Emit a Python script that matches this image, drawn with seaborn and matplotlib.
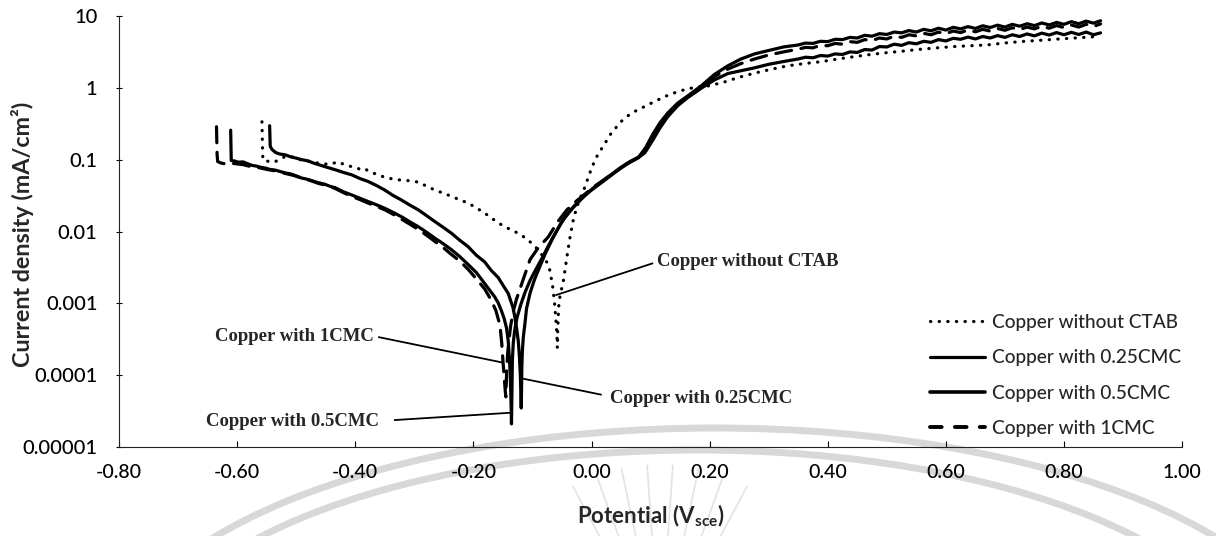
import matplotlib
matplotlib.use("Agg")
import numpy as np
import matplotlib.pyplot as plt
from matplotlib.lines import Line2D
from matplotlib.patches import Arc
from matplotlib.ticker import FixedLocator, FixedFormatter, NullLocator
import pandas as pd
import seaborn as sns

# Potentiodynamic polarisation data: (potential V vs SCE, current density mA/cm2)
no_ctab = [
    (-0.558, 0.34), (-0.5575, 0.22), (-0.557, 0.14), (-0.5565, 0.100), (-0.550, 0.097),
    (-0.542, 0.093), (-0.535, 0.095), (-0.527, 0.104), (-0.520, 0.110), (-0.512, 0.113),
    (-0.505, 0.109), (-0.497, 0.103), (-0.490, 0.099), (-0.480, 0.096), (-0.470, 0.093),
    (-0.462, 0.090), (-0.452, 0.088), (-0.443, 0.087), (-0.435, 0.091), (-0.428, 0.094),
    (-0.420, 0.087), (-0.410, 0.082), (-0.400, 0.079), (-0.392, 0.074), (-0.384, 0.076),
    (-0.378, 0.070), (-0.370, 0.066), (-0.364, 0.063), (-0.356, 0.060), (-0.350, 0.057),
    (-0.340, 0.055), (-0.330, 0.053), (-0.316, 0.052), (-0.305, 0.051), (-0.293, 0.049),
    (-0.279, 0.043), (-0.265, 0.038), (-0.251, 0.0345), (-0.237, 0.031), (-0.223, 0.0278),
    (-0.209, 0.0251), (-0.195, 0.0215), (-0.181, 0.0182), (-0.167, 0.0150), (-0.152, 0.0124),
    (-0.138, 0.0108), (-0.124, 0.0095), (-0.110, 0.0080), (-0.096, 0.0063), (-0.085, 0.0049),
    (-0.076, 0.0038), (-0.071, 0.0030), (-0.066, 0.0018), (-0.0625, 0.0010), (-0.060, 0.00055),
    (-0.0585, 0.00035), (-0.0578, 0.00024), (-0.0572, 0.00040), (-0.0562, 0.00070),
    (-0.0550, 0.00105), (-0.0520, 0.00145), (-0.0482, 0.0019), (-0.0440, 0.0033),
    (-0.0398, 0.0056), (-0.0355, 0.0092), (-0.0313, 0.0140), (-0.0250, 0.0220),
    (-0.0180, 0.0310), (-0.0117, 0.041), (-0.0040, 0.062), (0.0024, 0.085), (0.0109, 0.120),
    (0.0193, 0.153), (0.0334, 0.236), (0.050, 0.342), (0.067, 0.447), (0.084, 0.525),
    (0.101, 0.617), (0.1236, 0.762), (0.146, 0.895), (0.163, 0.98), (0.180, 1.04),
    (0.200, 1.08), (0.225, 1.22), (0.250, 1.42), (0.276, 1.62), (0.300, 1.80), (0.332, 2.05),
    (0.360, 2.20), (0.389, 2.34), (0.417, 2.55), (0.445, 2.75), (0.473, 2.95), (0.501, 3.13),
    (0.530, 3.30), (0.558, 3.49), (0.586, 3.65), (0.614, 3.80), (0.642, 3.90), (0.670, 4.00),
    (0.698, 4.25), (0.727, 4.46), (0.755, 4.62), (0.783, 4.79), (0.810, 4.95), (0.835, 5.10),
    (0.857, 5.25),
]

cmc_025 = [
    (-0.545, 0.30), (-0.5445, 0.21), (-0.544, 0.155), (-0.541, 0.140), (-0.535, 0.127),
    (-0.528, 0.121), (-0.519, 0.118), (-0.510, 0.111), (-0.500, 0.106), (-0.491, 0.101),
    (-0.480, 0.097), (-0.470, 0.090), (-0.462, 0.086), (-0.450, 0.080), (-0.434, 0.073),
    (-0.420, 0.067), (-0.406, 0.062), (-0.392, 0.055), (-0.378, 0.050), (-0.364, 0.044),
    (-0.350, 0.038), (-0.336, 0.032), (-0.322, 0.0277), (-0.308, 0.0236), (-0.293, 0.0201),
    (-0.279, 0.0167), (-0.265, 0.0138), (-0.251, 0.0115), (-0.237, 0.0095), (-0.223, 0.0076),
    (-0.209, 0.0062), (-0.195, 0.0047), (-0.181, 0.0038), (-0.170, 0.0029), (-0.158, 0.0023),
    (-0.149, 0.00175), (-0.141, 0.00138), (-0.137, 0.0011), (-0.133, 0.00088), (-0.130, 0.00066),
    (-0.127, 0.00046), (-0.124, 0.00030), (-0.122, 0.00018), (-0.1205, 0.0001),
    (-0.1195, 0.000055), (-0.119, 0.000035), (-0.1185, 0.00006), (-0.118, 0.00013),
    (-0.117, 0.00022), (-0.1155, 0.00034), (-0.113, 0.0005), (-0.110, 0.00085), (-0.104, 0.0014),
    (-0.097, 0.0021), (-0.088, 0.0032), (-0.078, 0.0050), (-0.066, 0.0080), (-0.051, 0.0135),
    (-0.035, 0.020), (-0.020, 0.027), (-0.008, 0.034), (0.005, 0.042), (0.020, 0.052),
    (0.035, 0.064), (0.050, 0.079), (0.065, 0.095), (0.080, 0.110), (0.092, 0.150),
    (0.104, 0.230), (0.116, 0.330), (0.129, 0.45), (0.146, 0.62), (0.163, 0.78), (0.186, 1.08),
    (0.208, 1.55), (0.231, 2.05), (0.253, 2.55), (0.276, 3.00), (0.300, 3.35), (0.325, 3.75),
    (0.350, 4.00), (0.3625, 4.25), (0.375, 4.20), (0.3875, 4.50), (0.400, 4.45), (0.4125, 4.80),
    (0.425, 4.75), (0.4375, 5.10), (0.450, 5.00), (0.4625, 5.45), (0.475, 5.30), (0.4875, 5.75),
    (0.500, 5.60), (0.5125, 6.05), (0.525, 5.90), (0.5375, 6.35), (0.550, 6.05), (0.5625, 6.60),
    (0.575, 6.30), (0.5875, 6.85), (0.600, 6.45), (0.6125, 7.05), (0.625, 6.70), (0.6375, 7.20),
    (0.650, 6.80), (0.6625, 7.40), (0.675, 7.00), (0.6875, 7.55), (0.700, 7.10), (0.7125, 7.75),
    (0.725, 7.30), (0.7375, 7.90), (0.750, 7.45), (0.7625, 8.10), (0.775, 7.60), (0.7875, 8.25),
    (0.800, 7.75), (0.8125, 8.45), (0.825, 7.90), (0.8375, 8.60), (0.850, 8.05), (0.862, 8.70),
]

cmc_05 = [
    (-0.611, 0.26), (-0.6105, 0.16), (-0.610, 0.098), (-0.605, 0.097), (-0.598, 0.093),
    (-0.590, 0.094), (-0.583, 0.089), (-0.575, 0.084), (-0.567, 0.082), (-0.560, 0.079),
    (-0.552, 0.077), (-0.545, 0.074), (-0.535, 0.072), (-0.527, 0.069), (-0.519, 0.066),
    (-0.510, 0.064), (-0.500, 0.060), (-0.491, 0.056), (-0.482, 0.054), (-0.472, 0.051),
    (-0.462, 0.048), (-0.452, 0.046), (-0.443, 0.043), (-0.434, 0.041), (-0.420, 0.036),
    (-0.406, 0.0325), (-0.392, 0.0292), (-0.378, 0.0263), (-0.364, 0.0237), (-0.350, 0.0212),
    (-0.336, 0.0186), (-0.322, 0.0162), (-0.308, 0.0138), (-0.293, 0.0117), (-0.279, 0.0098),
    (-0.265, 0.0081), (-0.251, 0.0068), (-0.237, 0.0056), (-0.223, 0.0045), (-0.209, 0.0035),
    (-0.195, 0.0027), (-0.181, 0.0019), (-0.172, 0.00152), (-0.164, 0.00124), (-0.158, 0.00102),
    (-0.153, 0.00081), (-0.148, 0.00062), (-0.144, 0.00046), (-0.141, 0.00030), (-0.139, 0.00017),
    (-0.1375, 0.0001), (-0.1365, 0.00005), (-0.1358, 0.00003), (-0.1355, 0.000021),
    (-0.1350, 0.00004), (-0.1345, 0.00009), (-0.1340, 0.00016), (-0.1325, 0.00028),
    (-0.130, 0.00043), (-0.126, 0.00064), (-0.120, 0.00095), (-0.113, 0.0014), (-0.104, 0.0021),
    (-0.094, 0.0030), (-0.083, 0.0044), (-0.072, 0.0066), (-0.060, 0.0100), (-0.045, 0.0160),
    (-0.030, 0.0225), (-0.015, 0.0300), (0.000, 0.0380), (0.015, 0.0470), (0.030, 0.058),
    (0.045, 0.072), (0.060, 0.088), (0.075, 0.102), (0.090, 0.125), (0.104, 0.19), (0.116, 0.28),
    (0.129, 0.40), (0.146, 0.57), (0.163, 0.74), (0.186, 1.00), (0.208, 1.30), (0.231, 1.60),
    (0.253, 1.75), (0.276, 1.92), (0.300, 2.15), (0.325, 2.35), (0.350, 2.55), (0.3625, 2.70),
    (0.375, 2.65), (0.3875, 2.85), (0.400, 2.80), (0.4125, 3.00), (0.425, 2.95), (0.4375, 3.20),
    (0.450, 3.15), (0.4625, 3.45), (0.475, 3.40), (0.4875, 3.80), (0.500, 3.75), (0.5125, 4.10),
    (0.525, 3.95), (0.5375, 4.30), (0.550, 4.15), (0.5625, 4.50), (0.575, 4.35), (0.5875, 4.75),
    (0.600, 4.55), (0.6125, 4.95), (0.625, 4.80), (0.6375, 5.15), (0.650, 4.85), (0.6625, 5.25),
    (0.675, 5.00), (0.6875, 5.40), (0.700, 5.10), (0.7125, 5.55), (0.725, 5.25), (0.7375, 5.70),
    (0.750, 5.35), (0.7625, 5.85), (0.775, 5.50), (0.7875, 5.95), (0.800, 5.55), (0.8125, 6.00),
    (0.825, 5.60), (0.8375, 6.05), (0.850, 5.55), (0.862, 5.90),
]

cmc_1 = [
    (-0.635, 0.29), (-0.6345, 0.19), (-0.634, 0.12), (-0.633, 0.095), (-0.628, 0.091),
    (-0.620, 0.088), (-0.610, 0.090), (-0.600, 0.088), (-0.590, 0.086), (-0.580, 0.082),
    (-0.570, 0.080), (-0.560, 0.077), (-0.547, 0.073), (-0.533, 0.070), (-0.519, 0.065),
    (-0.505, 0.061), (-0.491, 0.056), (-0.477, 0.052), (-0.462, 0.047), (-0.448, 0.044),
    (-0.434, 0.040), (-0.420, 0.035), (-0.406, 0.031), (-0.392, 0.028), (-0.378, 0.025),
    (-0.364, 0.0225), (-0.350, 0.0202), (-0.336, 0.0175), (-0.322, 0.0150), (-0.308, 0.0128),
    (-0.293, 0.0107), (-0.279, 0.0089), (-0.265, 0.0073), (-0.251, 0.0060), (-0.237, 0.0048),
    (-0.223, 0.0039), (-0.209, 0.0030), (-0.195, 0.0022), (-0.181, 0.0016), (-0.170, 0.00112),
    (-0.162, 0.0008), (-0.155, 0.0005), (-0.152, 0.00028), (-0.150, 0.00016), (-0.148, 0.0001),
    (-0.146, 0.00006), (-0.145, 0.00005), (-0.1445, 0.00007), (-0.1435, 0.00012),
    (-0.142, 0.0002), (-0.140, 0.0003), (-0.137, 0.00048), (-0.133, 0.00075), (-0.127, 0.00115),
    (-0.118, 0.0019), (-0.104, 0.0041), (-0.090, 0.0060), (-0.073, 0.0085), (-0.058, 0.0135),
    (-0.042, 0.020), (-0.025, 0.027), (-0.010, 0.034), (0.005, 0.043), (0.020, 0.052),
    (0.035, 0.064), (0.050, 0.078), (0.065, 0.093), (0.080, 0.108), (0.092, 0.135),
    (0.104, 0.21), (0.116, 0.30), (0.129, 0.42), (0.146, 0.59), (0.163, 0.76), (0.186, 1.04),
    (0.208, 1.45), (0.231, 1.85), (0.253, 2.20), (0.276, 2.55), (0.300, 2.90), (0.325, 3.20),
    (0.350, 3.50), (0.3625, 3.70), (0.375, 3.65), (0.3875, 3.95), (0.400, 3.90), (0.4125, 4.20),
    (0.425, 4.10), (0.4375, 4.45), (0.450, 4.35), (0.4625, 4.75), (0.475, 4.60), (0.4875, 5.00),
    (0.500, 4.85), (0.5125, 5.30), (0.525, 5.10), (0.5375, 5.55), (0.550, 5.35), (0.5625, 5.80),
    (0.575, 5.55), (0.5875, 6.05), (0.600, 5.75), (0.6125, 6.25), (0.625, 5.95), (0.6375, 6.45),
    (0.650, 6.10), (0.6625, 6.60), (0.675, 6.25), (0.6875, 6.80), (0.700, 6.40), (0.7125, 6.95),
    (0.725, 6.55), (0.7375, 7.10), (0.750, 6.70), (0.7625, 7.30), (0.775, 6.85), (0.7875, 7.45),
    (0.800, 7.00), (0.8125, 7.60), (0.825, 7.10), (0.8375, 7.75), (0.850, 7.25), (0.862, 7.85),
]

series_names = ["Copper without CTAB", "Copper with 0.25CMC", "Copper with 0.5CMC", "Copper with 1CMC"]
series_data = [no_ctab, cmc_025, cmc_05, cmc_1]

x_ticks = [-0.80, -0.60, -0.40, -0.20, 0.00, 0.20, 0.40, 0.60, 0.80, 1.00]
y_ticks = [1e-5, 1e-4, 1e-3, 1e-2, 1e-1, 1, 10]
y_tick_labels = ["0.00001", "0.0001", "0.001", "0.01", "0.1", "1", "10"]

frames = []
for name, pts in zip(series_names, series_data):
    frames.append(pd.DataFrame({"potential": [p[0] for p in pts],
                                "current": [p[1] for p in pts],
                                "series": name}))
df = pd.concat(frames, ignore_index=True)

sns.set_theme(style="ticks")
plt.rcParams["font.family"] = ["Lato", "DejaVu Sans"]
plt.rcParams["lines.dash_capstyle"] = "round"
plt.rcParams["lines.solid_capstyle"] = "round"
plt.rcParams["mathtext.fontset"] = "custom"
plt.rcParams["mathtext.rm"] = "Lato:bold"
plt.rcParams["mathtext.bf"] = "Lato:bold"

fig = plt.figure(figsize=(12.16, 5.36), dpi=100)
fig.patch.set_facecolor("white")

# faint seal watermark behind the plot (figure pixel space, origin bottom-left)
bg = fig.add_axes([0, 0, 1, 1], zorder=0)
bg.set_xlim(0, 1216)
bg.set_ylim(0, 536)
bg.axis("off")
seal_grey = "#d8d8d8"
bg.add_patch(Arc((715, -142), 1212, 500, theta1=0, theta2=180, color=seal_grey, lw=5))
bg.add_patch(Arc((698, -144), 1118, 460, theta1=0, theta2=180, color=seal_grey, lw=5))
for ang in [62, 70, 78, 86, 94, 102, 110, 118]:
    a = np.deg2rad(ang)
    bg.plot([660 + 95 * np.cos(a), 660 + 185 * np.cos(a)],
            [-114 + 95 * np.sin(a), -114 + 185 * np.sin(a)], color="#e2e2e2", lw=1.2)

ax = fig.add_axes([0.0979, 0.166, 0.8742, 0.8034], zorder=1)
ax.patch.set_alpha(0)
ax.set_yscale("log")

dash_map = {
    "Copper without CTAB": (0.1, 2.6),
    "Copper with 0.25CMC": "",
    "Copper with 0.5CMC": "",
    "Copper with 1CMC": (5, 3),
}
sns.lineplot(data=df, x="potential", y="current", hue="series", style="series",
             hue_order=series_names, style_order=series_names,
             palette=["black"] * 4, dashes=dash_map, sort=False, estimator=None,
             legend=False, linewidth=2.3, ax=ax)

ax.set_xlim(-0.8, 1.0)
ax.set_ylim(1e-5, 10)
ax.xaxis.set_major_locator(FixedLocator(x_ticks))
ax.xaxis.set_major_formatter(FixedFormatter([f"{t:.2f}" for t in x_ticks]))
ax.yaxis.set_major_locator(FixedLocator(y_ticks))
ax.yaxis.set_major_formatter(FixedFormatter(y_tick_labels))
ax.yaxis.set_minor_locator(NullLocator())
ax.tick_params(axis="y", direction="inout", length=5, width=0.8, pad=13, labelsize=14.5,
               colors="black")
ax.tick_params(axis="x", direction="in", length=4, width=0.8, pad=12, labelsize=14,
               colors="black")
for lab in ax.get_yticklabels() + ax.get_xticklabels():
    lab.set_fontweight("medium")
for s in ["top", "right"]:
    ax.spines[s].set_visible(False)
for s in ["left", "bottom"]:
    ax.spines[s].set_linewidth(0.8)
    ax.spines[s].set_color("#222222")

ax.set_ylabel("Current density (mA/cm²)", fontsize=16.8, fontweight="bold")
ax.yaxis.set_label_coords(-0.080, 0.4935)
ax.set_xlabel(r"Potential (V$_{\mathbf{sce}}$)", fontsize=16, fontweight="bold")
ax.xaxis.set_label_coords(0.5, -0.130)

# callouts naming each curve
note_kw = dict(fontfamily="Liberation Serif", fontweight="bold", fontsize=13.5, va="center")
line_kw = dict(arrowstyle="-", color="black", lw=1.3, shrinkB=0)
ax.annotate("Copper without CTAB", xy=(-0.060, 1.31e-3), xytext=(0.111, 3.8e-3),
            ha="left", arrowprops=dict(line_kw, shrinkA=1, relpos=(0, 0.5)), **note_kw)
ax.annotate("Copper with 1CMC", xy=(-0.150, 1.5e-4), xytext=(-0.368, 3.5e-4),
            ha="right", arrowprops=dict(line_kw, shrinkA=1, relpos=(1, 0.5)), **note_kw)
ax.annotate("Copper with 0.25CMC", xy=(-0.117, 9e-5), xytext=(0.031, 4.8e-5),
            ha="left", arrowprops=dict(line_kw, shrinkA=4, relpos=(0, 0.6)), **note_kw)
ax.annotate("Copper with 0.5CMC", xy=(-0.138, 3e-5), xytext=(-0.360, 2.3e-5),
            ha="right", arrowprops=dict(line_kw, shrinkA=9, relpos=(1, 0.5)), **note_kw)

handles = [
    Line2D([], [], color="black", lw=2.3, linestyle=(0, (0.1, 2.6))),
    Line2D([], [], color="black", lw=2.3),
    Line2D([], [], color="black", lw=2.6),
    Line2D([], [], color="black", lw=2.8, linestyle=(0, (3.0, 3.4))),
]
fig.legend(handles, series_names, loc="upper left", bbox_to_anchor=(0.7648, 0.4146),
           frameon=False, prop={"weight": "medium", "size": 13.7}, handlelength=2.9,
           handletextpad=0.37, labelspacing=0.97, borderpad=0, borderaxespad=0)

fig.savefig("out.png", dpi=100, facecolor="white")
